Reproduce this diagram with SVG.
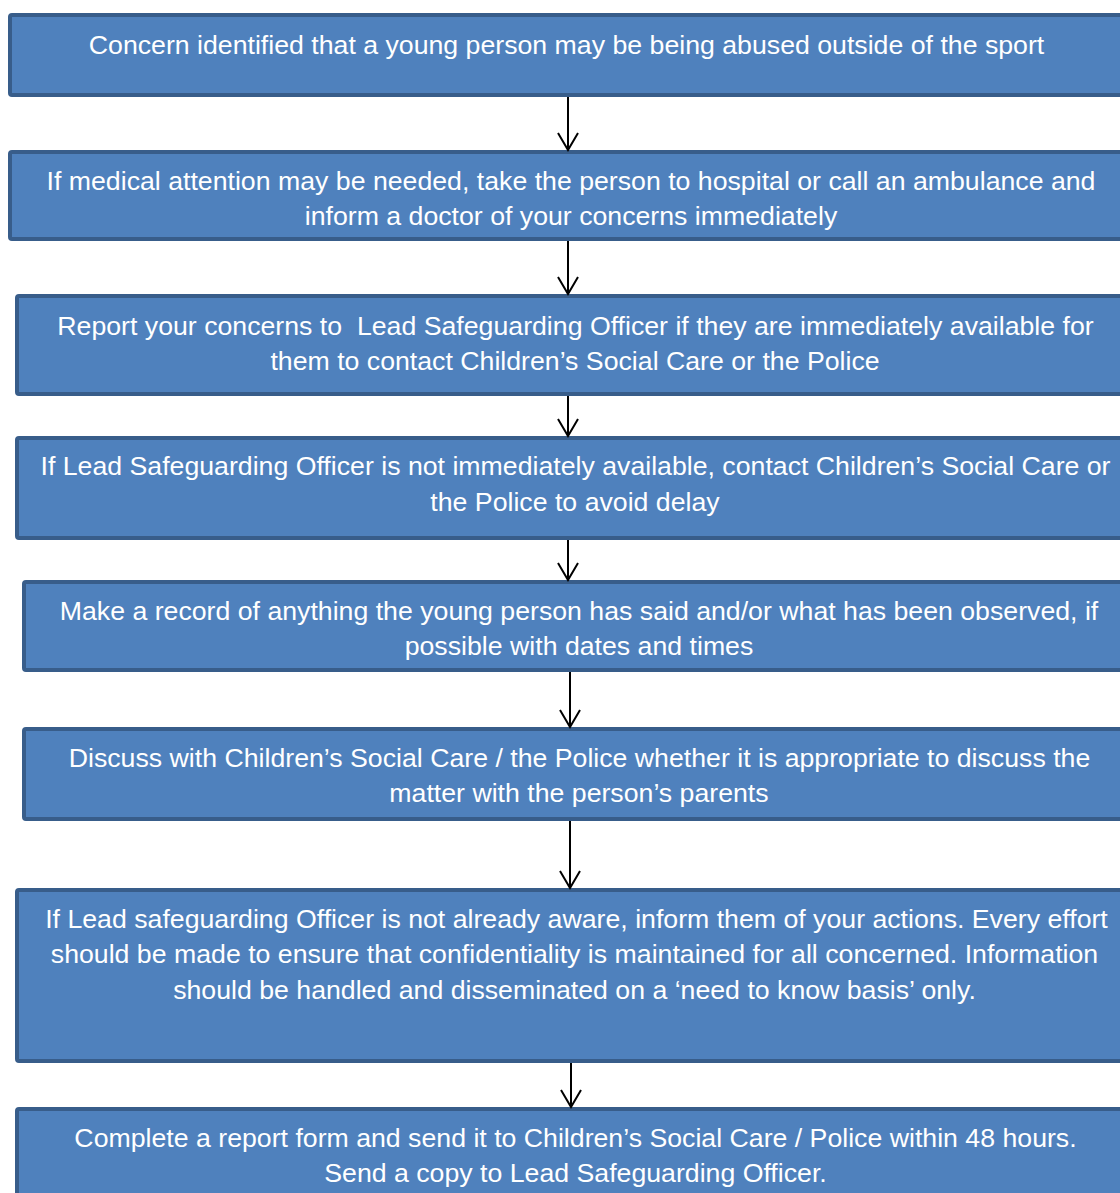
<svg xmlns="http://www.w3.org/2000/svg" width="1120" height="1193" viewBox="0 0 1120 1193">
<style>
.box{fill:#4f81bd;stroke:#385d8a;stroke-width:4}
.t{font-family:"Liberation Sans",Arial,sans-serif;font-size:26.7px;fill:#ffffff;text-anchor:middle}
.c{stroke:#000;stroke-width:2;fill:none}
</style>
<defs>
<marker id="ah" markerUnits="userSpaceOnUse" markerWidth="40" markerHeight="40" refX="0" refY="0" orient="auto" overflow="visible">
<path d="M-17,-10 L0,0 L-17,10" fill="none" stroke="#000" stroke-width="2"/>
</marker>
</defs>
<rect width="1120" height="1193" fill="#fff"/>
<g id="n1"><rect class="box" x="10" y="15" width="1125" height="80" rx="2"/><text class="t" x="566.5" y="54">Concern identified that a young person may be being abused outside of the sport</text></g>
<g id="n2"><rect class="box" x="10" y="152" width="1125" height="87" rx="2"/><text class="t" x="571" y="190">If medical attention may be needed, take the person to hospital or call an ambulance and</text><text class="t" x="571" y="225">inform a doctor of your concerns immediately</text></g>
<g id="n3"><rect class="box" x="17" y="296" width="1125" height="98" rx="2"/><text class="t" x="575.5" y="335" xml:space="preserve">Report your concerns to  Lead Safeguarding Officer if they are immediately available for</text><text class="t" x="575" y="370">them to contact Children’s Social Care or the Police</text></g>
<g id="n4"><rect class="box" x="17" y="438" width="1125" height="100" rx="2"/><text class="t" x="575.5" y="475">If Lead Safeguarding Officer is not immediately available, contact Children’s Social Care or</text><text class="t" x="575" y="511">the Police to avoid delay</text></g>
<g id="n5"><rect class="box" x="24" y="582" width="1125" height="88" rx="2"/><text class="t" x="579" y="620">Make a record of anything the young person has said and/or what has been observed, if</text><text class="t" x="579" y="655">possible with dates and times</text></g>
<g id="n6"><rect class="box" x="24" y="729" width="1125" height="90" rx="2"/><text class="t" x="579.5" y="767">Discuss with Children’s Social Care / the Police whether it is appropriate to discuss the</text><text class="t" x="579" y="802">matter with the person’s parents</text></g>
<g id="n7"><rect class="box" x="17" y="890" width="1125" height="171" rx="2"/><text class="t" x="576.5" y="928">If Lead safeguarding Officer is not already aware, inform them of your actions. Every effort</text><text class="t" x="574.5" y="963">should be made to ensure that confidentiality is maintained for all concerned. Information</text><text class="t" x="574.5" y="999">should be handled and disseminated on a ‘need to know basis’ only.</text></g>
<g id="n8"><rect class="box" x="17" y="1109" width="1125" height="100" rx="2"/><text class="t" x="575.5" y="1147">Complete a report form and send it to Children’s Social Care / Police within 48 hours.</text><text class="t" x="575.5" y="1182">Send a copy to Lead Safeguarding Officer.</text></g>
<g id="connectors">
<line class="c" x1="568" y1="97" x2="568" y2="150" marker-end="url(#ah)"/>
<line class="c" x1="568" y1="241" x2="568" y2="294" marker-end="url(#ah)"/>
<line class="c" x1="568" y1="396" x2="568" y2="436" marker-end="url(#ah)"/>
<line class="c" x1="568" y1="540" x2="568" y2="580" marker-end="url(#ah)"/>
<line class="c" x1="570" y1="672" x2="570" y2="727" marker-end="url(#ah)"/>
<line class="c" x1="570" y1="821" x2="570" y2="888" marker-end="url(#ah)"/>
<line class="c" x1="571" y1="1063" x2="571" y2="1107" marker-end="url(#ah)"/>
</g>
</svg>
